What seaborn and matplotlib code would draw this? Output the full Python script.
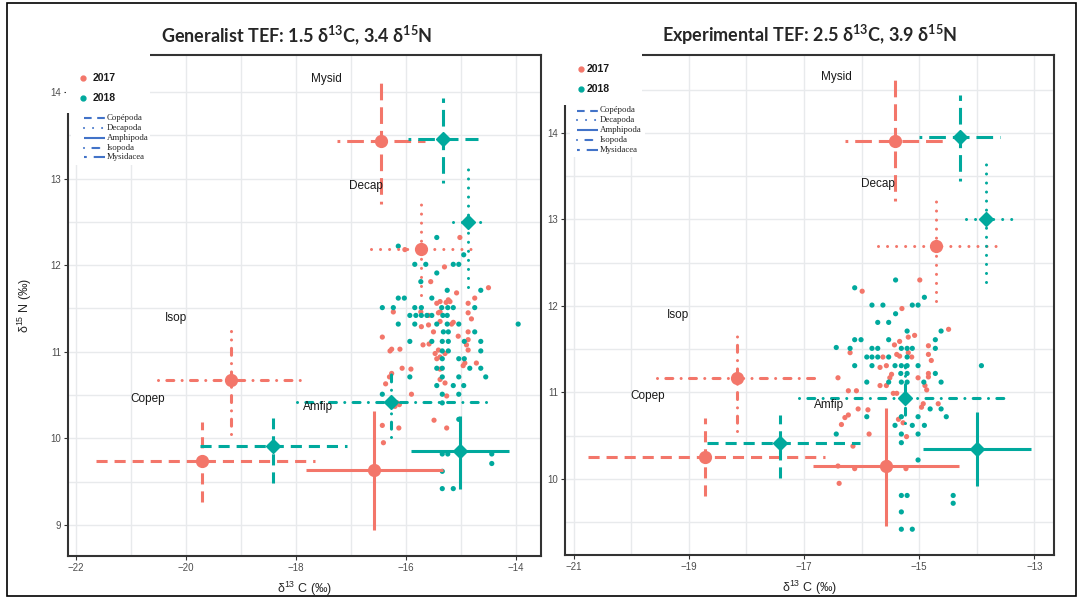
import pandas as pd
import seaborn as sns
import matplotlib.pyplot as plt
from matplotlib.patches import Rectangle
from matplotlib.lines import Line2D
from matplotlib.ticker import MultipleLocator, FixedLocator

W, H = 1083, 599

taxa = ['Copepoda', 'Decapoda', 'Amphipoda', 'Isopoda', 'Mysidacea']
legend_names = ['Copépoda', 'Decapoda', 'Amphipoda', 'Isopoda', 'Mysidacea']
short_names = ['Copep', 'Decap', 'Amfip', 'Isop', 'Mysid']
years = ['2017', '2018']

# ---- Generalist TEF: group means and bar ends (order = taxa) ----
gen_cx17 = [-19.70, -15.72, -16.59, -19.18, -16.45]
gen_cy17 = [9.74, 12.19, 9.64, 10.67, 13.43]
gen_xlo17 = [-21.64, -16.64, -17.82, -20.50, -17.25]
gen_xhi17 = [-17.65, -14.71, -15.33, -17.84, -15.65]
gen_ylo17 = [9.27, 11.66, 8.94, 10.05, 12.71]
gen_yhi17 = [10.19, 12.74, 10.32, 11.24, 14.12]
gen_cx18 = [-18.41, -14.87, -15.02, -16.27, -15.33]
gen_cy18 = [9.91, 12.50, 9.85, 10.42, 13.46]
gen_xlo18 = [-19.75, -15.15, -15.91, -17.98, -15.96]
gen_xhi18 = [-17.08, -14.50, -14.13, -14.44, -14.69]
gen_ylo18 = [9.48, 11.75, 9.41, 10.02, 12.95]
gen_yhi18 = [10.23, 13.15, 10.26, 10.81, 13.93]
gen_lab_x = [-20.70, -16.72, -17.59, -20.18, -17.44]
gen_lab_y = [10.46, 12.91, 10.36, 11.39, 14.15]

# consumer samples, generalist TEF
gen_x17 = [-15.30, -15.55, -14.50, -15.08, -15.23, -14.75, -15.44, -15.38, -15.27, -15.20, -14.87,
           -16.23, -15.73, -15.41, -15.38, -14.87, -14.81, -15.59,
           -15.38, -15.14, -15.17, -15.72, -15.59, -15.50, -14.87, -15.05, -16.43,
           -15.69, -15.58, -14.87, -14.90, -16.26, -16.29, -16.11, -15.41, -14.87,
           -15.47, -15.44, -15.38, -15.29, -14.93, -14.96, -16.07, -15.91, -15.38, -14.72,
           -16.26, -16.30, -15.38, -15.29, -16.37, -15.90, -15.26,
           -16.16, -16.12, -16.20, -15.49, -16.43, -15.26, -16.13, -16.41, -16.02, -15.02]
gen_y17 = [11.98, 11.81, 11.74, 11.68, 11.60, 11.62, 11.56, 11.58, 11.57, 11.58, 11.56,
           11.46, 11.46, 11.45, 11.46, 11.45, 11.38, 11.42,
           11.35, 11.34, 11.32, 11.29, 11.31, 11.23, 11.23, 11.18, 11.17,
           11.08, 11.09, 11.14, 11.08, 11.03, 11.01, 11.03, 11.02, 11.02,
           10.98, 10.92, 10.94, 10.98, 10.87, 10.84, 10.81, 10.80, 10.80, 10.87,
           10.75, 10.71, 10.68, 10.64, 10.63, 10.51, 10.49,
           10.41, 10.39, 10.37, 10.21, 10.15, 10.12, 10.12, 9.95, 12.18, 12.32]
gen_x18 = [-14.95, -15.84, -15.64, -15.14, -15.04, -15.44, -15.73, -15.25, -14.64, -15.53,
           -16.14, -16.03, -16.43, -16.23, -15.84, -15.72, -15.35, -15.24, -15.14, -14.75,
           -15.93, -15.82, -15.72, -15.62, -15.53, -15.33, -15.25,
           -16.14, -15.84, -15.44, -15.25, -15.04, -13.96,
           -15.32, -15.23, -14.75,
           -15.93, -15.53, -15.34, -15.23, -14.94, -14.64,
           -15.34, -15.23, -14.64,
           -15.34, -15.04, -14.94,
           -15.44, -15.34, -14.84, -14.64,
           -15.93, -15.34, -15.04, -14.55,
           -15.44, -15.14, -14.95,
           -16.43, -15.34, -15.04,
           -15.34, -15.04, -15.34, -15.24, -14.44, -14.44, -15.34, -15.34, -15.14,
           -16.14, -15.44]
gen_y18 = [12.12, 12.01, 12.01, 12.01, 12.01, 11.91, 11.81, 11.71, 11.71, 11.62,
           11.62, 11.62, 11.51, 11.51, 11.51, 11.51, 11.51, 11.51, 11.51, 11.51,
           11.42, 11.42, 11.42, 11.42, 11.42, 11.42, 11.42,
           11.32, 11.32, 11.32, 11.32, 11.32, 11.32,
           11.23, 11.23, 11.23,
           11.12, 11.12, 11.12, 11.12, 11.12, 11.12,
           11.01, 11.01, 11.01,
           10.92, 10.92, 10.92,
           10.81, 10.81, 10.81, 10.81,
           10.71, 10.71, 10.71, 10.71,
           10.61, 10.61, 10.61,
           10.51, 10.51, 10.51,
           10.41, 10.22, 9.82, 9.82, 9.82, 9.71, 9.62, 9.42, 9.42,
           12.22, 12.32]

# ---- Experimental TEF ----
exp_cx17 = [-18.72, -14.71, -15.57, -18.16, -15.42]
exp_cy17 = [10.26, 12.69, 10.15, 11.17, 13.91]
exp_xlo17 = [-20.75, -15.72, -16.84, -19.56, -16.29]
exp_xhi17 = [-16.64, -13.63, -14.31, -16.78, -14.58]
exp_ylo17 = [9.80, 12.06, 9.46, 10.56, 13.21]
exp_yhi17 = [10.71, 13.26, 10.82, 11.73, 14.61]
exp_cx18 = [-17.41, -13.84, -14.00, -15.24, -14.29]
exp_cy18 = [10.42, 13.00, 10.35, 10.94, 13.95]
exp_xlo18 = [-18.69, -14.19, -14.94, -17.08, -15.00]
exp_xhi18 = [-16.03, -13.37, -13.06, -13.41, -13.60]
exp_ylo18 = [10.01, 12.28, 9.92, 10.65, 13.44]
exp_yhi18 = [10.74, 13.69, 10.77, 11.32, 14.44]
exp_lab_x = [-19.72, -15.71, -16.56, -19.18, -16.43]
exp_lab_y = [10.96, 13.41, 10.86, 11.90, 14.64]

exp_x17 = [-14.99, -15.99, -15.30, -14.49, -15.08, -15.19, -15.34, -15.43, -14.84, -16.20,
           -15.63, -15.39, -15.34, -15.19, -15.13, -14.84, -14.79, -15.68, -15.57, -15.02,
           -15.48, -15.51, -14.84, -14.84, -15.68, -15.57, -16.09, -16.23, -14.90, -14.87,
           -15.45, -15.39, -14.67, -14.93, -14.96, -16.06, -15.89, -16.23, -16.29, -16.35,
           -15.36, -15.28, -15.87, -15.22, -16.15, -16.12, -15.23, -15.55, -16.41, -16.41,
           -16.39]
exp_y17 = [12.30, 12.17, 11.97, 11.73, 11.66, 11.64, 11.59, 11.55, 11.54, 11.46,
           11.41, 11.44, 11.42, 11.46, 11.41, 11.44, 11.37, 11.29, 11.31, 11.17,
           11.21, 11.17, 11.22, 11.18, 11.08, 11.08, 11.02, 11.02, 11.08, 11.03,
           10.99, 10.99, 10.87, 10.87, 10.83, 10.81, 10.80, 10.74, 10.71, 10.63,
           10.69, 10.65, 10.52, 10.49, 10.38, 10.12, 10.12, 10.19, 11.17, 10.15,
           9.95]
exp_x18 = [-15.41, -16.12, -15.82, -15.63, -15.12, -15.02, -14.91, -15.41, -15.72, -15.53,
           -16.12, -16.01, -15.53, -15.21, -14.72, -14.62,
           -16.20, -15.82, -15.72, -15.31, -15.21, -15.12, -14.72,
           -15.91, -15.82, -15.72, -15.53, -15.21,
           -16.12, -15.82, -15.42, -15.31, -15.21, -15.02, -13.92,
           -15.32, -15.21, -14.72,
           -15.91, -15.53, -15.31, -15.21, -14.92, -14.62,
           -14.81, -14.62, -15.91, -15.31, -15.02, -14.53,
           -15.42, -15.12, -14.91, -15.31, -15.02, -15.31, -15.02,
           -15.31, -15.21, -14.41, -14.41, -15.31, -15.31, -15.12, -16.44, -16.44]
exp_y18 = [12.30, 12.21, 12.01, 12.01, 12.01, 12.01, 12.10, 11.91, 11.81, 11.81,
           11.61, 11.61, 11.61, 11.71, 11.61, 11.71,
           11.51, 11.51, 11.51, 11.51, 11.51, 11.51, 11.51,
           11.41, 11.41, 11.41, 11.41, 11.41,
           11.31, 11.31, 11.31, 11.31, 11.31, 11.31, 11.31,
           11.22, 11.22, 11.22,
           11.12, 11.12, 11.12, 11.12, 11.12, 11.12,
           10.81, 10.81, 10.72, 10.72, 10.72, 10.72,
           10.62, 10.62, 10.62, 10.52, 10.52, 10.42, 10.22,
           9.81, 9.81, 9.81, 9.72, 9.62, 9.42, 9.42, 11.52, 10.52]

sns.set_style('white')
plt.rcParams['font.family'] = ['Liberation Sans', 'DejaVu Sans']
plt.rcParams['mathtext.default'] = 'regular'
plt.rcParams['lines.scale_dashes'] = False

pal = {'2017': '#F3766A', '2018': '#00A99D'}
marks = {'2017': 'o', '2018': 'D'}
msize = {'2017': 8.5, '2018': 7}
BLUE = '#4273C8'
dash = {'Copepoda': (0, (8, 5)), 'Decapoda': (0, (0.01, 6.5)), 'Amphipoda': '-',
        'Isopoda': (0, (0.01, 6.0, 5, 6.0)), 'Mysidacea': (10, (12, 5))}
key_dash = dict(dash, Copepoda=(0, (5.5, 4)))
caps = {'Copepoda': 'butt', 'Decapoda': 'round', 'Amphipoda': 'butt',
        'Isopoda': 'round', 'Mysidacea': 'butt'}


def make_bars(cx17, cy17, xlo17, xhi17, ylo17, yhi17, cx18, cy18, xlo18, xhi18, ylo18, yhi18):
    a = pd.DataFrame({'taxon': taxa, 'year': '2017', 'cx': cx17, 'cy': cy17,
                      'xlo': xlo17, 'xhi': xhi17, 'ylo': ylo17, 'yhi': yhi17})
    b = pd.DataFrame({'taxon': taxa, 'year': '2018', 'cx': cx18, 'cy': cy18,
                      'xlo': xlo18, 'xhi': xhi18, 'ylo': ylo18, 'yhi': yhi18})
    return pd.concat([a, b], ignore_index=True)


def make_pts(x17, y17, x18, y18):
    a = pd.DataFrame({'x': x17, 'y': y17, 'year': '2017'})
    b = pd.DataFrame({'x': x18, 'y': y18, 'year': '2018'})
    return pd.concat([a, b], ignore_index=True)


gen_bars = make_bars(gen_cx17, gen_cy17, gen_xlo17, gen_xhi17, gen_ylo17, gen_yhi17,
                     gen_cx18, gen_cy18, gen_xlo18, gen_xhi18, gen_ylo18, gen_yhi18)
exp_bars = make_bars(exp_cx17, exp_cy17, exp_xlo17, exp_xhi17, exp_ylo17, exp_yhi17,
                     exp_cx18, exp_cy18, exp_xlo18, exp_xhi18, exp_ylo18, exp_yhi18)
gen_pts = make_pts(gen_x17, gen_y17, gen_x18, gen_y18)
exp_pts = make_pts(exp_x17, exp_y17, exp_x18, exp_y18)


def draw_panel(ax, pts, bars, lab_x, lab_y):
    sns.scatterplot(data=pts, x='x', y='y', hue='year', hue_order=years, palette=pal,
                    s=14, linewidth=0, legend=False, ax=ax, zorder=2)
    for _, r in bars.iterrows():
        c = pal[r['year']]
        kw = dict(color=c, lw=2.2, ls=dash[r['taxon']], dash_capstyle=caps[r['taxon']],
                  solid_capstyle='butt', zorder=3)
        ax.plot([r['xlo'], r['xhi']], [r['cy'], r['cy']], **kw)
        ax.plot([r['cx'], r['cx']], [r['ylo'], r['yhi']], **kw)
        ax.plot(r['cx'], r['cy'], marker=marks[r['year']], ms=msize[r['year']],
                color=c, mec=c, zorder=4)
    for name, lx, ly in zip(short_names, lab_x, lab_y):
        ax.text(lx, ly, name, fontsize=8.5, color='#1a1a1a', ha='center', va='center', zorder=5)
    ax.set_xlabel('δ$^{13}$ C (‰)', fontsize=9, labelpad=5)
    ax.set_ylabel('')
    ax.yaxis.set_major_locator(MultipleLocator(1))
    ax.yaxis.set_minor_locator(MultipleLocator(0.5))
    ax.grid(which='both', color='#E8EAEC', lw=1.0)
    ax.set_axisbelow(True)
    ax.tick_params(which='major', length=3, width=0.8, color='#333333', labelsize=7,
                   labelcolor='#4d4d4d', pad=2, direction='out', bottom=True, left=True)
    ax.tick_params(which='minor', length=0)
    for sp in ax.spines.values():
        sp.set_color('#333333')
        sp.set_linewidth(1.5)


fig = plt.figure(figsize=(W / 100, H / 100), dpi=100)


def box(l, t, r, b):
    return [l / W, 1 - b / H, (r - l) / W, (b - t) / H]


ax1 = fig.add_axes(box(68, 55, 541, 556))
ax2 = fig.add_axes(box(565, 55, 1054, 555))

draw_panel(ax1, gen_pts, gen_bars, gen_lab_x, gen_lab_y)
ax1.set_xlim(-22.145, -13.545)
ax1.set_ylim(8.642, 14.427)
ax1.xaxis.set_major_locator(MultipleLocator(2))
ax1.xaxis.set_minor_locator(MultipleLocator(1))
ax1.set_ylabel('δ$^{15}$ N (‰)', fontsize=9, labelpad=12)

draw_panel(ax2, exp_pts, exp_bars, exp_lab_x, exp_lab_y)
ax2.set_xlim(-21.149, -12.66)
ax2.set_ylim(9.122, 14.90)
ax2.xaxis.set_major_locator(FixedLocator([-21, -19, -17, -15, -13]))
ax2.xaxis.set_minor_locator(FixedLocator([-20, -18, -16, -14]))


def px(x, y):
    return x / W, 1 - y / H


def mask(l, t, r, b):
    fig.add_artist(Rectangle(px(l, b), (r - l) / W, (b - t) / H, facecolor='white',
                             edgecolor='none', zorder=1.5))


def legends(dot_x, text_x, year_y, line_x0, line_x1, ltext_x, rows_y):
    for yr, yy in zip(years, year_y):
        fig.add_artist(Line2D([dot_x / W], [1 - yy / H], marker='o', ms=3.5, color=pal[yr], lw=0))
        fig.text(text_x / W, 1 - yy / H, yr, fontsize=7.5, fontweight='bold', color='#1a1a1a',
                 va='center', ha='left')
    for t, name, yy in zip(taxa, legend_names, rows_y):
        fig.add_artist(Line2D([line_x0 / W, line_x1 / W], [1 - yy / H, 1 - yy / H], color=BLUE,
                              lw=1.5, ls=key_dash[t], dash_capstyle=caps[t], solid_capstyle='butt'))
        fig.text(ltext_x / W, 1 - yy / H, name, fontsize=6.3, family='Liberation Serif',
                 color='#222222', va='center', ha='left')


mask(66, 52, 150, 113)
mask(71, 111, 150, 165)
legends(83, 93, [78, 98], 84, 105, 107, [118, 127.5, 137.5, 147.5, 157])

mask(563, 52, 642, 105)
mask(570, 103, 645, 157)
legends(581, 587, [69, 89], 577, 598, 600, [110.5, 120, 130, 140, 149.5])

fig.text(297 / W, 1 - 35 / H, 'Generalist TEF: 1.5 δ$^{13}$C, 3.4 δ$^{15}$N', fontsize=13,
         fontweight='bold', family='Lato', ha='center', va='center')
fig.text(810 / W, 1 - 35 / H, 'Experimental TEF: 2.5 δ$^{13}$C, 3.9 δ$^{15}$N', fontsize=13,
         fontweight='bold', family='Lato', ha='center', va='center')

fig.add_artist(Rectangle(px(7, 596), 1069 / W, 593 / H, fill=False, edgecolor='black',
                         lw=1.2, zorder=6))

fig.savefig('out.png', dpi=100)
